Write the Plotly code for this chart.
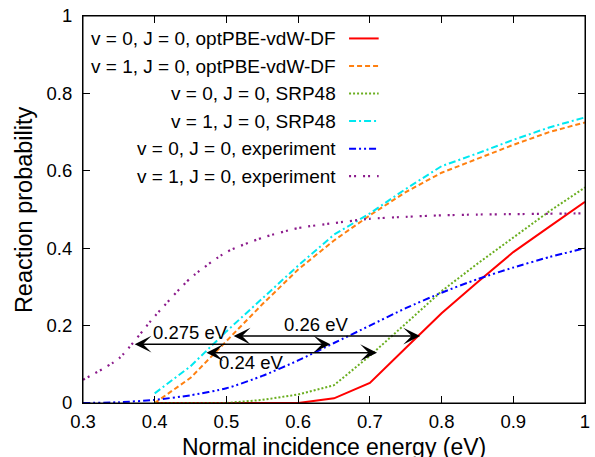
import plotly.graph_objects as go

# ---------------- data ----------------
energy = [0.30, 0.35, 0.40, 0.45, 0.50, 0.55, 0.60, 0.65, 0.70, 0.75, 0.80, 0.85, 0.90, 0.95, 1.00]

v0_optpbe = [None, None, 0.0, 0.0, 0.0, 0.0, 0.0, 0.012, 0.052, 0.142, 0.232, 0.312, 0.390, 0.455, 0.520]
v1_optpbe = [None, None, 0.0, 0.065, 0.160, 0.255, 0.345, 0.420, 0.485, 0.545, 0.595, 0.632, 0.667, 0.700, 0.725]
v0_srp48 = [None, None, 0.0, 0.0, 0.0, 0.008, 0.022, 0.046, 0.122, 0.205, 0.289, 0.360, 0.428, 0.495, 0.557]
v1_srp48 = [None, None, 0.025, 0.095, 0.185, 0.270, 0.355, 0.435, 0.490, 0.553, 0.612, 0.645, 0.680, 0.712, 0.738]
v0_exp = [0.0, 0.002, 0.008, 0.020, 0.038, 0.070, 0.110, 0.155, 0.200, 0.245, 0.285, 0.320, 0.350, 0.377, 0.400]
v1_exp = [0.060, 0.115, 0.224, 0.323, 0.390, 0.427, 0.452, 0.465, 0.476, 0.481, 0.485, 0.487, 0.488, 0.489, 0.490]

series_names = [
    "v = 0, J = 0, optPBE-vdW-DF",
    "v = 1, J = 0, optPBE-vdW-DF",
    "v = 0, J = 0, SRP48",
    "v = 1, J = 0, SRP48",
    "v = 0, J = 0, experiment",
    "v = 1, J = 0, experiment",
]
series_values = [v0_optpbe, v1_optpbe, v0_srp48, v1_srp48, v0_exp, v1_exp]

# energy-shift arrows: (left end, right end, height, label, label x, label y)
shift_x0 = [0.508, 0.370, 0.470]
shift_x1 = [0.770, 0.645, 0.710]
shift_y = [0.173, 0.152, 0.130]
shift_labels = ["0.26 eV", "0.275 eV", "0.24 eV"]
shift_label_x = [0.625, 0.450, 0.534]
shift_label_y = [0.202, 0.181, 0.105]

x_ticks = [0.3, 0.4, 0.5, 0.6, 0.7, 0.8, 0.9, 1.0]
x_tick_text = ["0.3", "0.4", "0.5", "0.6", "0.7", "0.8", "0.9", "1"]
y_ticks = [0, 0.2, 0.4, 0.6, 0.8, 1.0]
y_tick_text = ["0", "0.2", "0.4", "0.6", "0.8", "1"]

# ---------------- styles ----------------
colors = ["#ff0000", "#ff8010", "#6aae1f", "#00e8f0", "#0000ff", "#8b1a8b"]
dashes = ["solid", "5px,3px", "2px,2px", "7px,3px,2px,3px", "7px,3px,2px,3px,2px,3px", "2px,3px,2px,7px"]
widths = [2, 2, 2, 2, 2, 2.2]
shapes_line = ["linear", "linear", "linear", "linear", "spline", "spline"]

FONT = "Liberation Sans, Arial, sans-serif"

fig = go.Figure()
for name, vals, c, d, w, sh in zip(series_names, series_values, colors, dashes, widths, shapes_line):
    fig.add_trace(go.Scatter(
        x=energy, y=vals, mode="lines", name=name,
        line=dict(color=c, dash=d, width=w, shape=sh, smoothing=0.6),
        connectgaps=False, showlegend=False,
    ))

annotations = []
shapes = []

# manual key (gnuplot style: text right-aligned, sample to the right)
key_text_right = 0.507
key_line_x0, key_line_x1 = 0.530, 0.589
key_top, key_step = 0.942, 0.0712
for i, (name, c, d, w) in enumerate(zip(series_names, colors, dashes, widths)):
    yk = key_top - i * key_step
    annotations.append(dict(
        x=key_text_right, y=yk, xref="paper", yref="paper", text=name,
        showarrow=False, xanchor="right", yanchor="middle",
        font=dict(family=FONT, size=19, color="black"),
    ))
    shapes.append(dict(
        type="line", xref="paper", yref="paper",
        x0=key_line_x0, x1=key_line_x1, y0=yk, y1=yk,
        line=dict(color=c, dash=d, width=w),
    ))

# frame around the plotting area
shapes.append(dict(type="rect", xref="paper", yref="paper", x0=0, x1=1, y0=0, y1=1,
                   line=dict(color="black", width=1), fillcolor="rgba(0,0,0,0)", layer="above"))

# double-headed arrows and labels
for x0, x1, yy, lab, lx, ly in zip(shift_x0, shift_x1, shift_y, shift_labels, shift_label_x, shift_label_y):
    annotations.append(dict(
        x=x1, y=yy, ax=x0, ay=yy, xref="x", yref="y", axref="x", ayref="y",
        text="", showarrow=True, arrowside="end+start",
        arrowhead=3, startarrowhead=3, arrowsize=2.0, startarrowsize=2.0,
        arrowwidth=1.4, arrowcolor="black", standoff=0, startstandoff=0,
    ))
    annotations.append(dict(
        x=lx, y=ly, xref="x", yref="y", text=lab, showarrow=False,
        xanchor="center", yanchor="middle",
        font=dict(family=FONT, size=18.5, color="black"),
    ))

# axis titles
annotations.append(dict(
    x=0.5, y=-0.1135, xref="paper", yref="paper", text="Normal incidence energy (eV)",
    showarrow=False, xanchor="center", yanchor="middle",
    font=dict(family=FONT, size=23, color="black"),
))
annotations.append(dict(
    x=-0.1183, y=0.5, xref="paper", yref="paper", text="Reaction probability",
    showarrow=False, xanchor="center", yanchor="middle", textangle=-90,
    font=dict(family=FONT, size=23.5, color="black"),
))

axis_common = dict(
    showline=True, linecolor="black", linewidth=1, mirror="ticks",
    ticks="inside", ticklen=7, tickwidth=1, tickcolor="black",
    showgrid=False, zeroline=False, ticklabeloverflow="allow",
    tickfont=dict(family=FONT, size=18.5, color="black"),
)

fig.update_layout(
    width=595, height=457,
    margin=dict(l=83, r=5, t=9, b=54),
    paper_bgcolor="white", plot_bgcolor="white",
    xaxis=dict(range=[0.3, 1.0], tickvals=x_ticks, ticktext=x_tick_text,
               ticklabelstandoff=2, **axis_common),
    yaxis=dict(range=[0, 1.0], tickvals=y_ticks, ticktext=y_tick_text,
               ticklabelstandoff=6, **axis_common),
    annotations=annotations,
    shapes=shapes,
    showlegend=False,
)

fig.write_html(
    "out.html",
    config={"displayModeBar": False},
    post_script="document.body.style.margin='0';document.body.style.overflow='hidden';",
)
